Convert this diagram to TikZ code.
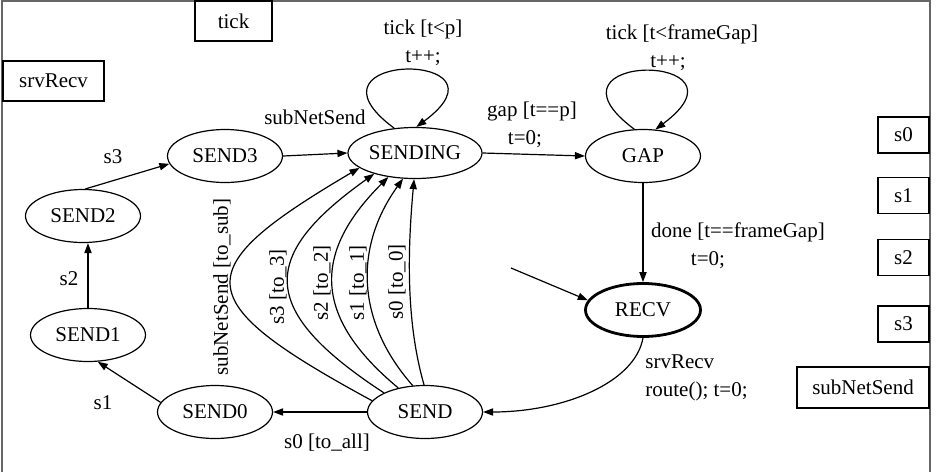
\documentclass[tikz,border=0pt]{standalone}
\usepackage{fontspec}
\setmainfont{Liberation Serif}
\usetikzlibrary{arrows.meta, shapes.geometric}

\begin{document}
\begin{tikzpicture}[
  x=0.5pt, y=-0.5pt,
  every node/.style={font=\fontsize{10.5}{14}\selectfont},
  state/.style={ellipse, draw, line width=0.6pt, inner sep=0pt, minimum width=57.5pt, minimum height=26.5pt},
  portbox/.style={rectangle, draw, line width=0.7pt, inner sep=0pt, minimum height=18pt},
  trans/.style={-{Stealth[length=5pt, width=3.6pt, inset=0pt]}, line width=0.6pt},
  lbl/.style={align=center, inner sep=0pt},
]
\useasboundingbox (0,0) rectangle (939,472);

% Frame
\draw[black!60, line width=1pt] (2,472) -- (2,1) -- (930,1) -- (930,472);

% Ports
\node[portbox, minimum width=38.5pt, minimum height=20pt] (tick) at (233.5,21) {tick};
\node[portbox, minimum width=50.5pt, minimum height=20pt] (srvrecv) at (53.5,81) {srvRecv};
\node[portbox, minimum width=25.5pt] (p0) at (903.5,135) {s0};
\node[portbox, minimum width=25.5pt] (p1) at (903.5,195.5) {s1};
\node[portbox, minimum width=25.5pt] (p2) at (903.5,257.5) {s2};
\node[portbox, minimum width=25.5pt] (p3) at (903.5,324) {s3};
\node[portbox, minimum width=66pt, minimum height=20.5pt] (psub) at (863,387.5) {subNetSend};

% States
\node[state] (send2) at (83,216) {SEND2};
\node[state] (send1) at (88,335) {SEND1};
\node[state] (send0) at (215,412) {SEND0};
\node[state] (send) at (425,412) {SEND};
\node[state] (send3) at (225,156) {SEND3};
\node[state, minimum width=67pt, minimum height=25.5pt] (sending) at (415,153) {SENDING};
\node[state] (gap) at (643,156) {GAP};
\node[state, line width=1.4pt] (recv) at (643,310) {RECV};
\coordinate (start) at (511,268);

% Send chain
\draw[trans] (send.west) -- (send0.east);
\draw[trans] (send0.170) -- (send1.290);
\draw[trans] (send1.north) -- (send1.north |- send2.south);
\draw[trans] (send2.85) -- (send3.188);
\draw[trans] (send3.east) -- (sending.west);

\node[lbl] (l_all) at (327,443) {s0 [to\_all]};
\node[lbl] (l_s1) at (103,403) {s1};
\node[lbl] (l_s2) at (69,279) {s2};
\node[lbl] (l_s3) at (113,157) {s3};
\node[lbl] (l_sub) at (315,117) {subNetSend};

% SEND -> SENDING
\draw[trans] (send.168) .. controls +(-186,-101) and +(-173,102) .. (sending.195);
\draw[trans] (send.155) .. controls +(-127,-83) and +(-115,82) .. (sending.207);
\draw[trans] (send.138) .. controls +(-88,-73) and +(-74,74) .. (sending.222);
\draw[trans] (send.115) .. controls +(-58,-66) and +(-48,67) .. (sending.245);
\draw[trans] (send.92) .. controls +(-19,-66) and +(-6,66) .. (sending.268);

\node[lbl, rotate=90] (l_tosub) at (222,287) {subNetSend [to\_sub]};
\node[lbl, rotate=90] (l_to3) at (278,287) {s3 [to\_3]};
\node[lbl, rotate=90] (l_to2) at (322,283) {s2 [to\_2]};
\node[lbl, rotate=90] (l_to1) at (358,283) {s1 [to\_1]};
\node[lbl, rotate=90] (l_to0) at (397,282) {s0 [to\_0]};

% Timing
\draw[trans] (sending.130) .. controls +(-104,-77) and +(104,-77) .. (sending.87);
\node[lbl] (l_tp) at (423,43) {tick [t<p]\\t++;};
\draw[trans] (sending.east) -- (gap.west);
\node[lbl] (l_gap) at (532,125) {gap [t==p]\\t=0;\hspace*{7pt}};
\draw[trans] (gap.108) .. controls +(-105,-78) and +(105,-78) .. (gap.65);
\node[lbl] (l_tg) at (682,48) {tick [t<frameGap]\\t++;\hspace*{14pt}};
\draw[trans] (gap.south) -- (recv.north);
\node[lbl] (l_done) at (738,246) {done [t==frameGap]\\t=0;\hspace*{30pt}};

% Receive
\draw[trans] (start) -- (recv.170);
\draw[trans] (recv.south) .. controls +(-8,45) and +(80,0) .. (send.east);
\node[lbl, align=left, anchor=west] (l_recv) at (645,378) {srvRecv\\route(); t=0;};

\end{tikzpicture}
\end{document}
